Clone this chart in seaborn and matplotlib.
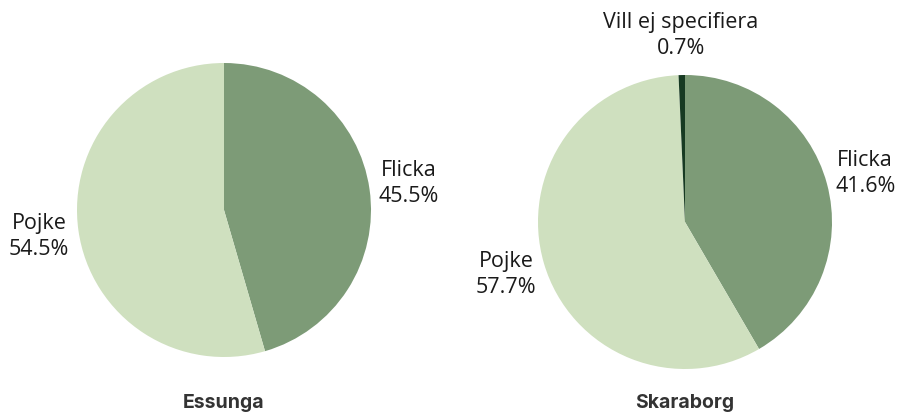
import matplotlib
matplotlib.use('Agg')
import matplotlib.pyplot as plt
import seaborn as sns

# data
kommuner = ['Essunga', 'Skaraborg']
essunga_labels = ['Flicka', 'Pojke']
essunga_values = [45.5, 54.5]
skaraborg_labels = ['Flicka', 'Pojke', 'Vill ej specifiera']
skaraborg_values = [41.6, 57.7, 0.7]

sns.set_theme(style='white')
plt.rcParams['font.family'] = ['Open Sans', 'DejaVu Sans']

colors = {'Flicka': '#7d9b77', 'Pojke': '#cfe0bf', 'Vill ej specifiera': '#173a22'}

W, H = 907, 417
fig = plt.figure(figsize=(W / 100, H / 100), dpi=100)

R = 147
pies = [
    (224, 210, essunga_labels, essunga_values, kommuner[0]),
    (685, 222, skaraborg_labels, skaraborg_values, kommuner[1]),
]

for cx, cy, labels, values, title in pies:
    ax = fig.add_axes([(cx - R) / W, (H - cy - R) / H, 2 * R / W, 2 * R / H])
    texts = [f'{l}\n{v:.1f}%' for l, v in zip(labels, values)]
    wedges, lbls = ax.pie(values, labels=texts, colors=[colors[l] for l in labels],
                          startangle=90, counterclock=False, labeldistance=1.27,
                          wedgeprops={'linewidth': 0},
                          textprops={'fontsize': 15.5, 'color': '#1a1a1a', 'linespacing': 1.35})
    for t in lbls:
        t.set_ha('center')
        t.set_va('center')
    ax.set_xlim(-1, 1)
    ax.set_ylim(-1, 1)
    ax.set_aspect('equal')
    fig.text(cx / W, 1 - 403 / H, title, ha='center', va='center', fontsize=14,
             fontweight='bold', color='#333333', family=['Inter', 'DejaVu Sans'])

fig.savefig('out.png', dpi=100)
